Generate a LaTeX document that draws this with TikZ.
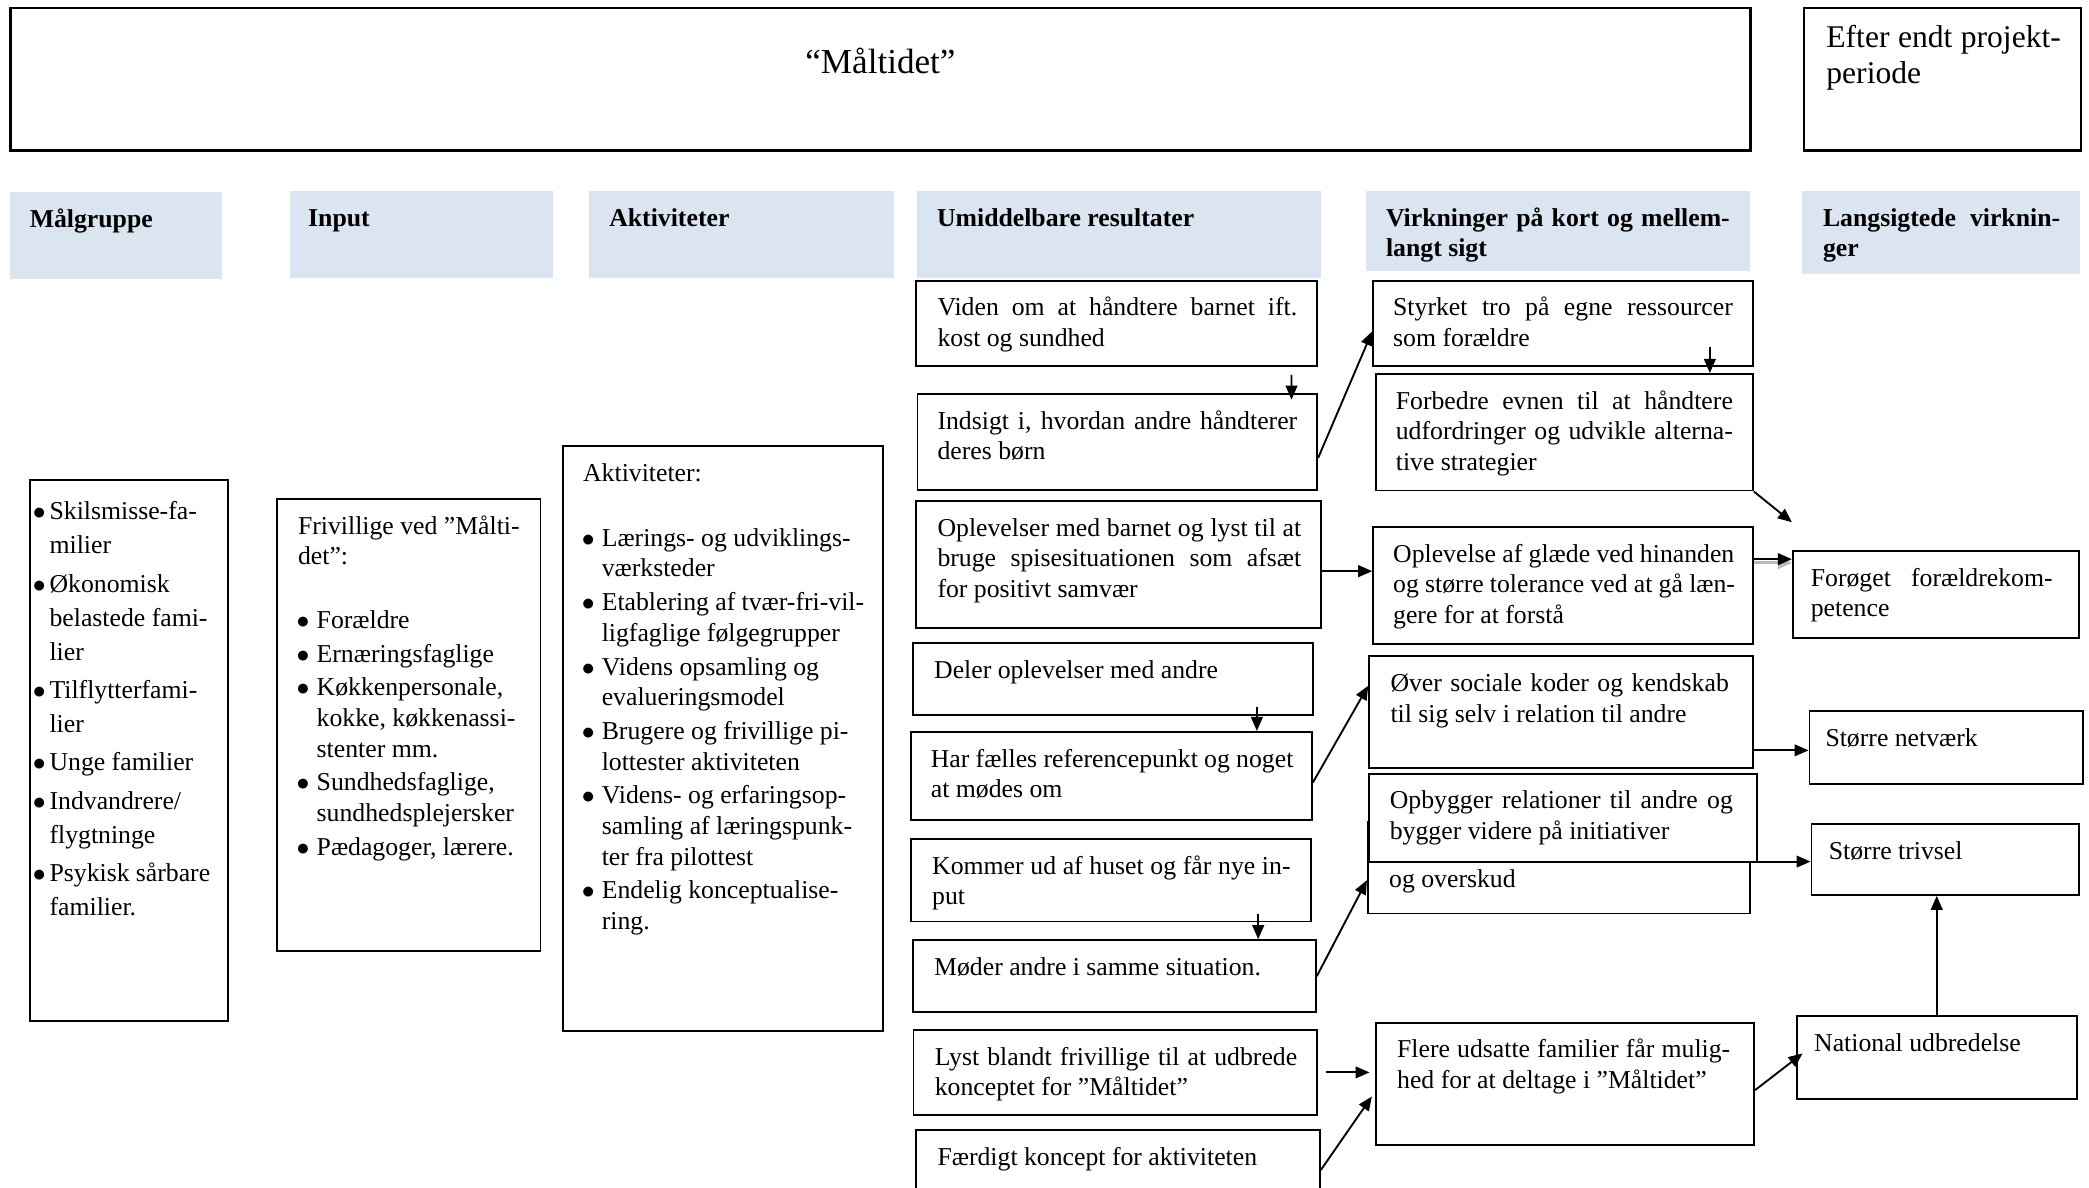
\documentclass[tikz,border=0pt]{standalone}
\usepackage{fontspec}
\setmainfont{Liberation Serif}
\usepackage{xcolor}
\usepackage{tikz}
\usetikzlibrary{arrows.meta}

\definecolor{headblue}{RGB}{219,229,241}
\newlength\upx
\setlength\upx{0.02cm}
\newlength\bsh
\setlength\bsh{-5\upx}
% text cell: [left pad]{width}{height}{lines}; \linebreak = justified line, \\ = ragged line
\newcommand\cell[4][16]{\parbox[t][#3\upx][t]{#2\upx}{\tolerance=10000\hbadness=10000\leftskip=#1\upx\rightskip=15\upx minus 15\upx\relax\rule{0pt}{15pt}#4}}
\newcommand\bul{\makebox[10\upx][l]{\hspace*{\bsh}$\bullet$}}
\newcommand\ind{\hspace*{10\upx}}

\begin{document}
\begin{tikzpicture}[x=0.02cm,y=-0.02cm,
  box/.style={draw,line width=0.8pt,inner sep=0pt,anchor=north west,fill=white},
  head/.style={fill=headblue,inner sep=0pt,anchor=north west,font=\bfseries},
  arr/.style={-{Triangle[length=6pt,width=5pt]},line width=0.8pt}]
\fontsize{11}{13.1}\selectfont
\useasboundingbox (0,0) rectangle (1568,891);
\fill[white] (0,0) rectangle (1568,891);
\clip (0,0) rectangle (1568,891);

% title row
\node[box,line width=1pt] (title) at (7,5) {\parbox[t][107\upx][t]{1306\upx}{\centering\fontsize{15}{17}\selectfont\rule{0pt}{28pt}“Måltidet”}};
\node[box,line width=1pt,font=\fontsize{13.5}{15.4}\selectfont] (efter) at (1353,5) {\cell[17]{208}{107}{\rule{0pt}{17pt}Efter endt projekt-\linebreak periode}};

% column heads
\node[head] (mhead) at (7,144) {\cell[15]{159}{65}{Målgruppe}};
\node[head] (ihead) at (217,143) {\cell[14]{198}{65}{Input}};
\node[head] (ahead) at (442,143) {\cell[15]{229}{65}{Aktiviteter}};
\node[head] (uhead) at (688,143) {\cell[15]{303}{65}{Umiddelbare resultater}};
\node[head] (vhead) at (1025,143) {\cell[15]{288}{60}{Virkninger på kort og mellem-\linebreak langt sigt}};
\node[head] (lhead) at (1352,143) {\cell[16]{209}{62}{Langsigtede virknin-\linebreak ger}};

% lists
\node[box,font=\fontsize{11}{14.5}\selectfont] (mgrp) at (21.5,359.6) {\cell[5]{149}{406}{\setlength\bsh{-2.5\upx}\rule{0pt}{17pt}\bul Skilsmisse-fa-\\\ind milier\\[1.9pt]\bul Økonomisk\\\ind belastede fami-\\\ind lier\\[1.9pt]\bul Tilflytterfami-\\\ind lier\\[1.9pt]\bul Unge familier\\[1.9pt]\bul Indvandrere/\\\ind flygtninge\\[1.9pt]\bul Psykisk sårbare\\\ind familier.}};
\node[box] (inp) at (207,374) {\cell[20]{198}{339}{\hspace*{-4\upx}Frivillige ved ”Målti-\\\hspace*{-4\upx}det”:\\[14pt]\bul Forældre\\[1.3pt]\bul Ernæringsfaglige\\[1.3pt]\bul Køkkenpersonale,\\\ind kokke, køkkenassi-\\\ind stenter mm.\\[1.3pt]\bul Sundhedsfaglige,\\\ind sundhedsplejersker\\[1.3pt]\bul Pædagoger, lærere.}};
\node[box] (akt) at (422,334) {\cell[19]{240}{439}{\hspace*{-4\upx}Aktiviteter:\\[14.8pt]\bul Lærings- og udviklings-\\\ind værksteder\\[1.3pt]\bul Etablering af tvær-fri-vil-\\\ind ligfaglige følgegrupper\\[1.3pt]\bul Videns opsamling og\\\ind evalueringsmodel\\[1.3pt]\bul Brugere og frivillige pi-\\\ind lottester aktiviteten\\[1.3pt]\bul Videns- og erfaringsop-\\\ind samling af læringspunk-\\\ind ter fra pilottest\\[1.3pt]\bul Endelig konceptualise-\\\ind ring.}};

% umiddelbare resultater
\node[box] (viden) at (687,210) {\cell{301}{64}{Viden om at håndtere barnet ift.\linebreak kost og sundhed}};
\node[box] (indsigt) at (688,295) {\cell[15]{300}{72}{Indsigt i, hvordan andre håndterer\linebreak deres børn}};
\node[box] (oplev) at (687,375.5) {\cell{304}{95}{Oplevelser med barnet og lyst til at\linebreak bruge spisesituationen som afsæt\linebreak for positivt samvær}};
\node[box] (deler) at (684.5,482) {\cell{300.5}{54}{Deler oplevelser med andre}};
\node[box] (harf) at (683,548.7) {\cell[15]{301}{66}{Har fælles referencepunkt og noget\linebreak at mødes om}};
\node[box] (kommer) at (683,629) {\cell{300}{62}{Kommer ud af huset og får nye in-\linebreak put}};
\node[box] (moder) at (684.5,705) {\cell{302.5}{54}{Møder andre i samme situation.}};
\node[box] (lyst) at (685,772.5) {\cell{303}{63.5}{Lyst blandt frivillige til at udbrede\linebreak konceptet for ”Måltidet”}};
\node[box] (faerdigt) at (687,847.5) {\cell{303}{60}{Færdigt koncept for aktiviteten}};

% virkninger paa kort og mellemlangt sigt
\node[box] (styrket) at (1030,210) {\cell[15]{285}{64}{Styrket tro på egne ressourcer\linebreak som forældre}};
\node[box] (forbedre) at (1032,280) {\cell[15]{283}{87.5}{Forbedre evnen til at håndtere\linebreak udfordringer og udvikle alterna-\linebreak tive strategier}};
\node[box] (glaede) at (1030,395) {\cell[15]{285}{88}{Oplevelse af glæde ved hinanden\linebreak og større tolerance ved at gå læn-\linebreak gere for at forstå}};
\node[box] (over) at (1027,492) {\cell{288}{84}{\rightskip=18\upx minus 15\upx\relax Øver sociale koder og kendskab\linebreak til sig selv i relation til andre}};
\node[box] (overskud) at (1026,616) {\cell{287}{69}{\mbox{}\\og overskud}};
\node[box] (opbyg) at (1027,580) {\cell[15.5]{291}{66}{\rightskip=18\upx minus 15\upx\relax Opbygger relationer til andre og\linebreak bygger videre på initiativer}};
\node[box] (flere) at (1032,767) {\cell{284}{92}{\rightskip=18\upx minus 15\upx\relax Flere udsatte familier får mulig-\linebreak hed for at deltage i ”Måltidet”}};

% langsigtede virkninger
\node[box] (foroget) at (1345,413) {\cell[13.5]{215}{65.5}{\rightskip=20\upx minus 15\upx\relax Forøget forældrekom-\linebreak petence}};
\node[box] (netv) at (1357.5,533) {\cell[12]{205}{55}{Større netværk}};
\node[box] (trivsel) at (1359,618) {\cell[13]{201}{53}{Større trivsel}};
\node[box] (national) at (1348,762) {\cell[13]{210}{62}{National udbredelse}};
\coordinate (ftip) at (1345,392);

% connectors
\draw[arr] ([xshift=-20\upx,yshift=-6\upx]viden.south east) -- ([xshift=-20\upx,yshift=-5\upx]indsigt.north east);
\draw[arr] ([yshift=-12\upx]indsigt.east) -- ([yshift=-6\upx]styrket.west);
\draw[arr] ([xshift=-33\upx,yshift=15\upx]styrket.south east) coordinate (s1) -- (s1 |- forbedre.north);
\draw[arr] (forbedre.south east) -- (ftip);
\draw[arr] ([yshift=-5\upx]oplev.east) coordinate (o1) -- (o1 -| glaede.west);
\draw[arr,preaction={draw=gray!55,line width=1.2pt,transform canvas={yshift=-1.6pt}}] ([yshift=20\upx]glaede.east) coordinate (g1) -- (g1 -| foroget.west);
\draw[arr] ([xshift=-43\upx,yshift=7\upx]deler.south east) coordinate (d1) -- (d1 |- harf.north);
\draw[arr] ([yshift=-5\upx]harf.east) -- ([yshift=20\upx]over.west);
\draw[arr] ([yshift=-28.5\upx]over.east) coordinate (v1) -- (v1 -| netv.west);
\draw[arr] ([yshift=4.5\upx]overskud.east) coordinate (v2) -- (v2 -| trivsel.west);
\draw[arr] ([xshift=-40\upx,yshift=6\upx]kommer.south east) coordinate (k1) -- (k1 |- moder.north);
\draw[arr] (moder.east) -- ([yshift=-9.5\upx]overskud.west);
\draw[arr,shorten >=4\upx] ([xshift=6\upx]lyst.east) coordinate (l1) -- (l1 -| flere.west);
\draw[arr,shorten >=4\upx] (faerdigt.east) -- ([yshift=-6\upx]flere.west);
\draw[arr] ([yshift=-4.5\upx]flere.east) -- ([xshift=5\upx,yshift=3\upx]national.west);
\draw[arr] (national.north) coordinate (n1) -- (n1 |- trivsel.south);
\end{tikzpicture}
\end{document}
